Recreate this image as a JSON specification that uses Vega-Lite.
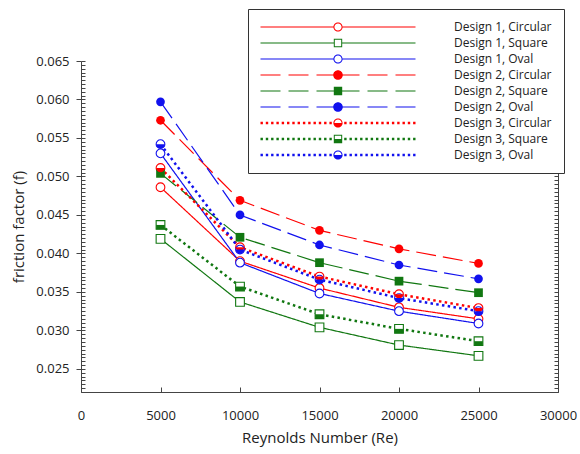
{
  "$schema": "https://vega.github.io/schema/vega-lite/v6.json",
  "width": 477,
  "height": 331,
  "autosize": {"type": "none"},
  "padding": {"left": 81, "top": 61, "right": 22, "bottom": 62},
  "config": {
    "font": "Open Sans",
    "view": {"stroke": null},
    "axis": {"domainColor": "#444", "tickColor": "#444", "labelColor": "#222", "titleColor": "#222", "labelFont": "Open Sans", "titleFont": "Open Sans", "labelFontSize": 13, "titleFontSize": 15, "titleFontWeight": "normal", "grid": false},
    "legend": {"labelFont": "Open Sans", "labelFontSize": 12, "labelColor": "#222"}
  },
  "data": {"values": [
    {"Re": 5000, "f": 0.0486, "design": "Design 1", "geom": "Circular", "series": "Design 1, Circular"},
    {"Re": 10000, "f": 0.0390, "design": "Design 1", "geom": "Circular", "series": "Design 1, Circular"},
    {"Re": 15000, "f": 0.0355, "design": "Design 1", "geom": "Circular", "series": "Design 1, Circular"},
    {"Re": 20000, "f": 0.0330, "design": "Design 1", "geom": "Circular", "series": "Design 1, Circular"},
    {"Re": 25000, "f": 0.0315, "design": "Design 1", "geom": "Circular", "series": "Design 1, Circular"},
    {"Re": 5000, "f": 0.0419, "design": "Design 1", "geom": "Square", "series": "Design 1, Square"},
    {"Re": 10000, "f": 0.0337, "design": "Design 1", "geom": "Square", "series": "Design 1, Square"},
    {"Re": 15000, "f": 0.0304, "design": "Design 1", "geom": "Square", "series": "Design 1, Square"},
    {"Re": 20000, "f": 0.0281, "design": "Design 1", "geom": "Square", "series": "Design 1, Square"},
    {"Re": 25000, "f": 0.0267, "design": "Design 1", "geom": "Square", "series": "Design 1, Square"},
    {"Re": 5000, "f": 0.0530, "design": "Design 1", "geom": "Oval", "series": "Design 1, Oval"},
    {"Re": 10000, "f": 0.0388, "design": "Design 1", "geom": "Oval", "series": "Design 1, Oval"},
    {"Re": 15000, "f": 0.0348, "design": "Design 1", "geom": "Oval", "series": "Design 1, Oval"},
    {"Re": 20000, "f": 0.0325, "design": "Design 1", "geom": "Oval", "series": "Design 1, Oval"},
    {"Re": 25000, "f": 0.0309, "design": "Design 1", "geom": "Oval", "series": "Design 1, Oval"},
    {"Re": 5000, "f": 0.0573, "design": "Design 2", "geom": "Circular", "series": "Design 2, Circular"},
    {"Re": 10000, "f": 0.0469, "design": "Design 2", "geom": "Circular", "series": "Design 2, Circular"},
    {"Re": 15000, "f": 0.0430, "design": "Design 2", "geom": "Circular", "series": "Design 2, Circular"},
    {"Re": 20000, "f": 0.0406, "design": "Design 2", "geom": "Circular", "series": "Design 2, Circular"},
    {"Re": 25000, "f": 0.0387, "design": "Design 2", "geom": "Circular", "series": "Design 2, Circular"},
    {"Re": 5000, "f": 0.0504, "design": "Design 2", "geom": "Square", "series": "Design 2, Square"},
    {"Re": 10000, "f": 0.0421, "design": "Design 2", "geom": "Square", "series": "Design 2, Square"},
    {"Re": 15000, "f": 0.0388, "design": "Design 2", "geom": "Square", "series": "Design 2, Square"},
    {"Re": 20000, "f": 0.0364, "design": "Design 2", "geom": "Square", "series": "Design 2, Square"},
    {"Re": 25000, "f": 0.0349, "design": "Design 2", "geom": "Square", "series": "Design 2, Square"},
    {"Re": 5000, "f": 0.0597, "design": "Design 2", "geom": "Oval", "series": "Design 2, Oval"},
    {"Re": 10000, "f": 0.0450, "design": "Design 2", "geom": "Oval", "series": "Design 2, Oval"},
    {"Re": 15000, "f": 0.0411, "design": "Design 2", "geom": "Oval", "series": "Design 2, Oval"},
    {"Re": 20000, "f": 0.0385, "design": "Design 2", "geom": "Oval", "series": "Design 2, Oval"},
    {"Re": 25000, "f": 0.0367, "design": "Design 2", "geom": "Oval", "series": "Design 2, Oval"},
    {"Re": 5000, "f": 0.0511, "design": "Design 3", "geom": "Circular", "series": "Design 3, Circular"},
    {"Re": 10000, "f": 0.0408, "design": "Design 3", "geom": "Circular", "series": "Design 3, Circular"},
    {"Re": 15000, "f": 0.0370, "design": "Design 3", "geom": "Circular", "series": "Design 3, Circular"},
    {"Re": 20000, "f": 0.0347, "design": "Design 3", "geom": "Circular", "series": "Design 3, Circular"},
    {"Re": 25000, "f": 0.0329, "design": "Design 3", "geom": "Circular", "series": "Design 3, Circular"},
    {"Re": 5000, "f": 0.0437, "design": "Design 3", "geom": "Square", "series": "Design 3, Square"},
    {"Re": 10000, "f": 0.0357, "design": "Design 3", "geom": "Square", "series": "Design 3, Square"},
    {"Re": 15000, "f": 0.0321, "design": "Design 3", "geom": "Square", "series": "Design 3, Square"},
    {"Re": 20000, "f": 0.0302, "design": "Design 3", "geom": "Square", "series": "Design 3, Square"},
    {"Re": 25000, "f": 0.0286, "design": "Design 3", "geom": "Square", "series": "Design 3, Square"},
    {"Re": 5000, "f": 0.0542, "design": "Design 3", "geom": "Oval", "series": "Design 3, Oval"},
    {"Re": 10000, "f": 0.0405, "design": "Design 3", "geom": "Oval", "series": "Design 3, Oval"},
    {"Re": 15000, "f": 0.0366, "design": "Design 3", "geom": "Oval", "series": "Design 3, Oval"},
    {"Re": 20000, "f": 0.0342, "design": "Design 3", "geom": "Oval", "series": "Design 3, Oval"},
    {"Re": 25000, "f": 0.0325, "design": "Design 3", "geom": "Oval", "series": "Design 3, Oval"}
  ]},
  "layer": [
    {
      "transform": [{"filter": "datum.design != 'Design 3'"}],
      "mark": {"type": "line", "strokeWidth": 1.2},
      "encoding": {
        "x": {"field": "Re", "type": "quantitative", "scale": {"domain": [0, 30000], "nice": false},
          "axis": {"title": "Reynolds Number (Re)", "values": [0, 5000, 10000, 15000, 20000, 25000, 30000], "format": "d", "tickSize": -5, "labelPadding": 22, "titlePadding": 8, "labelFlush": false, "labelOverlap": false}},
        "y": {"field": "f", "type": "quantitative", "scale": {"domain": [0.022, 0.065], "nice": false, "zero": false},
          "axis": {"orient": "left", "title": "friction factor (f)", "values": [0.025, 0.03, 0.035, 0.04, 0.045, 0.05, 0.055, 0.06, 0.065], "format": ".3f", "tickSize": 5, "labelPadding": 7, "titlePadding": 9, "labelOverlap": false}},
        "stroke": {"field": "geom", "type": "nominal", "scale": {"domain": ["Circular", "Square", "Oval"], "range": ["#ff0000", "#117711", "#1111ee"]}, "legend": null},
        "strokeDash": {"field": "design", "type": "nominal", "scale": {"domain": ["Design 1", "Design 2"], "range": [[1, 0], [20, 7]]}, "legend": null},
        "detail": {"field": "series"}
      }
    },
    {
      "transform": [{"filter": "datum.design == 'Design 3'"}],
      "mark": {"type": "line", "strokeWidth": 2.5, "strokeDash": [2.5, 3.3]},
      "encoding": {
        "x": {"field": "Re", "type": "quantitative"},
        "y": {"field": "f", "type": "quantitative", "axis": {"orient": "left", "tickCount": 86, "labels": false, "domain": false, "title": null, "tickSize": -4}},
        "stroke": {"field": "geom", "type": "nominal", "legend": null},
        "detail": {"field": "series"}
      }
    },
    {
      "transform": [{"filter": "datum.design != 'Design 2'"}],
      "mark": {"type": "point", "filled": true, "fill": "white", "strokeWidth": 1.1, "size": 76, "opacity": 1},
      "encoding": {
        "x": {"field": "Re", "type": "quantitative"},
        "y": {"field": "f", "type": "quantitative", "axis": {"orient": "right", "tickCount": 86, "labels": false, "domain": true, "title": null, "tickSize": -4}},
        "stroke": {"field": "geom", "type": "nominal", "legend": null},
        "shape": {"field": "geom", "type": "nominal", "scale": {"domain": ["Circular", "Square", "Oval"], "range": ["circle", "square", "circle"]}, "legend": null}
      }
    },
    {
      "transform": [{"filter": "datum.design == 'Design 2'"}],
      "mark": {"type": "point", "filled": true, "size": 76, "opacity": 1},
      "encoding": {
        "x": {"field": "Re", "type": "quantitative"},
        "y": {"field": "f", "type": "quantitative", "axis": null},
        "color": {"field": "geom", "type": "nominal", "scale": {"domain": ["Circular", "Square", "Oval"], "range": ["#ff0000", "#117711", "#1111ee"]}, "legend": null},
        "shape": {"field": "geom", "type": "nominal", "scale": {"domain": ["Circular", "Square", "Oval"], "range": ["circle", "square", "circle"]}, "legend": null}
      }
    },
    {
      "transform": [{"filter": "datum.design == 'Design 3'"}],
      "mark": {"type": "point", "filled": true, "size": 76, "opacity": 1},
      "encoding": {
        "x": {"field": "Re", "type": "quantitative"},
        "y": {"field": "f", "type": "quantitative", "axis": null},
        "color": {"field": "geom", "type": "nominal", "legend": null},
        "shape": {"field": "geom", "type": "nominal", "scale": {"domain": ["Circular", "Square", "Oval"], "range": ["M-1,0A1,1 0 0,0 1,0Z", "M-1,0H1V1H-1Z", "M-1,0A1,1 0 0,0 1,0Z"]}, "legend": null}
      }
    },
    {
      "transform": [{"filter": "datum.Re < 0"}],
      "mark": {"type": "point", "filled": true, "size": 4, "strokeWidth": 0, "opacity": 1},
      "encoding": {
        "fill": {"field": "series", "type": "nominal",
          "scale": {"domain": ["Design 1, Circular", "Design 1, Square", "Design 1, Oval", "Design 2, Circular", "Design 2, Square", "Design 2, Oval", "Design 3, Circular", "Design 3, Square", "Design 3, Oval"],
            "range": ["#ff0000", "#117711", "#1111ee", "#ff0000", "#117711", "#1111ee", "#ff0000", "#117711", "#1111ee"]},
          "legend": {"title": null, "orient": "none", "legendX": 167, "legendY": -52, "padding": 12, "strokeColor": "#333", "fillColor": "white", "labelFont": "Open Sans", "labelFontSize": 12, "labelColor": "#222", "symbolSize": 4, "symbolOffset": 72, "labelOffset": 110, "rowPadding": 4, "symbolStrokeWidth": 0, "symbolOpacity": 1, "labelLimit": 0}},
        "shape": {"field": "series", "type": "nominal",
          "scale": {"domain": ["Design 1, Circular", "Design 1, Square", "Design 1, Oval", "Design 2, Circular", "Design 2, Square", "Design 2, Oval", "Design 3, Circular", "Design 3, Square", "Design 3, Oval"],
            "range": [
              "M-77.5,-0.6H-4.6V0.6H-77.5Z M4.6,-0.6H77.5V0.6H4.6Z M-4.6,0A4.6,4.6 0 1,0 4.6,0A4.6,4.6 0 1,0 -4.6,0Z M-3.6,0A3.6,3.6 0 1,1 3.6,0A3.6,3.6 0 1,1 -3.6,0Z",
              "M-77.5,-0.6H-4.2V0.6H-77.5Z M4.2,-0.6H77.5V0.6H4.2Z M-4.2,-4.2H4.2V4.2H-4.2Z M-3.2,-3.2V3.2H3.2V-3.2Z",
              "M-77.5,-0.6H-4.6V0.6H-77.5Z M4.6,-0.6H77.5V0.6H4.6Z M-4.6,0A4.6,4.6 0 1,0 4.6,0A4.6,4.6 0 1,0 -4.6,0Z M-3.6,0A3.6,3.6 0 1,1 3.6,0A3.6,3.6 0 1,1 -3.6,0Z",
              "M-77.5,-0.6H-57.5V0.6H-77.5Z M-49.5,-0.6H-29.5V0.6H-49.5Z M-21.5,-0.6H-1.5V0.6H-21.5Z M1.5,-0.6H21.5V0.6H1.5Z M29.5,-0.6H49.5V0.6H29.5Z M57.5,-0.6H77.5V0.6H57.5Z M-4.8,0A4.8,4.8 0 1,1 4.8,0A4.8,4.8 0 1,1 -4.8,0Z",
              "M-77.5,-0.6H-57.5V0.6H-77.5Z M-49.5,-0.6H-29.5V0.6H-49.5Z M-21.5,-0.6H-1.5V0.6H-21.5Z M1.5,-0.6H21.5V0.6H1.5Z M29.5,-0.6H49.5V0.6H29.5Z M57.5,-0.6H77.5V0.6H57.5Z M-4.2,-4.2H4.2V4.2H-4.2Z",
              "M-77.5,-0.6H-57.5V0.6H-77.5Z M-49.5,-0.6H-29.5V0.6H-49.5Z M-21.5,-0.6H-1.5V0.6H-21.5Z M1.5,-0.6H21.5V0.6H1.5Z M29.5,-0.6H49.5V0.6H29.5Z M57.5,-0.6H77.5V0.6H57.5Z M-4.8,0A4.8,4.8 0 1,1 4.8,0A4.8,4.8 0 1,1 -4.8,0Z",
              "M-77.5,-1.2h2.4v2.4h-2.4Z M-72.2,-1.2h2.4v2.4h-2.4Z M-66.9,-1.2h2.4v2.4h-2.4Z M-61.6,-1.2h2.4v2.4h-2.4Z M-56.3,-1.2h2.4v2.4h-2.4Z M-51,-1.2h2.4v2.4h-2.4Z M-45.7,-1.2h2.4v2.4h-2.4Z M-40.4,-1.2h2.4v2.4h-2.4Z M-35.1,-1.2h2.4v2.4h-2.4Z M-29.8,-1.2h2.4v2.4h-2.4Z M-24.5,-1.2h2.4v2.4h-2.4Z M-19.2,-1.2h2.4v2.4h-2.4Z M-13.9,-1.2h2.4v2.4h-2.4Z M-8.6,-1.2h2.4v2.4h-2.4Z M6.2,-1.2h2.4v2.4h-2.4Z M11.5,-1.2h2.4v2.4h-2.4Z M16.8,-1.2h2.4v2.4h-2.4Z M22.1,-1.2h2.4v2.4h-2.4Z M27.4,-1.2h2.4v2.4h-2.4Z M32.7,-1.2h2.4v2.4h-2.4Z M38,-1.2h2.4v2.4h-2.4Z M43.3,-1.2h2.4v2.4h-2.4Z M48.6,-1.2h2.4v2.4h-2.4Z M53.9,-1.2h2.4v2.4h-2.4Z M59.2,-1.2h2.4v2.4h-2.4Z M64.5,-1.2h2.4v2.4h-2.4Z M69.8,-1.2h2.4v2.4h-2.4Z M75.1,-1.2h2.4v2.4h-2.4Z M-4.6,0A4.6,4.6 0 1,0 4.6,0A4.6,4.6 0 1,0 -4.6,0Z M-3.6,0A3.6,3.6 0 1,1 3.6,0A3.6,3.6 0 1,1 -3.6,0Z M-4.6,0A4.6,4.6 0 0,0 4.6,0Z",
              "M-77.5,-1.2h2.4v2.4h-2.4Z M-72.2,-1.2h2.4v2.4h-2.4Z M-66.9,-1.2h2.4v2.4h-2.4Z M-61.6,-1.2h2.4v2.4h-2.4Z M-56.3,-1.2h2.4v2.4h-2.4Z M-51,-1.2h2.4v2.4h-2.4Z M-45.7,-1.2h2.4v2.4h-2.4Z M-40.4,-1.2h2.4v2.4h-2.4Z M-35.1,-1.2h2.4v2.4h-2.4Z M-29.8,-1.2h2.4v2.4h-2.4Z M-24.5,-1.2h2.4v2.4h-2.4Z M-19.2,-1.2h2.4v2.4h-2.4Z M-13.9,-1.2h2.4v2.4h-2.4Z M-8.6,-1.2h2.4v2.4h-2.4Z M6.2,-1.2h2.4v2.4h-2.4Z M11.5,-1.2h2.4v2.4h-2.4Z M16.8,-1.2h2.4v2.4h-2.4Z M22.1,-1.2h2.4v2.4h-2.4Z M27.4,-1.2h2.4v2.4h-2.4Z M32.7,-1.2h2.4v2.4h-2.4Z M38,-1.2h2.4v2.4h-2.4Z M43.3,-1.2h2.4v2.4h-2.4Z M48.6,-1.2h2.4v2.4h-2.4Z M53.9,-1.2h2.4v2.4h-2.4Z M59.2,-1.2h2.4v2.4h-2.4Z M64.5,-1.2h2.4v2.4h-2.4Z M69.8,-1.2h2.4v2.4h-2.4Z M75.1,-1.2h2.4v2.4h-2.4Z M-4.2,-4.2H4.2V4.2H-4.2Z M-3.2,-3.2V3.2H3.2V-3.2Z M-4.2,0H4.2V4.2H-4.2Z",
              "M-77.5,-1.2h2.4v2.4h-2.4Z M-72.2,-1.2h2.4v2.4h-2.4Z M-66.9,-1.2h2.4v2.4h-2.4Z M-61.6,-1.2h2.4v2.4h-2.4Z M-56.3,-1.2h2.4v2.4h-2.4Z M-51,-1.2h2.4v2.4h-2.4Z M-45.7,-1.2h2.4v2.4h-2.4Z M-40.4,-1.2h2.4v2.4h-2.4Z M-35.1,-1.2h2.4v2.4h-2.4Z M-29.8,-1.2h2.4v2.4h-2.4Z M-24.5,-1.2h2.4v2.4h-2.4Z M-19.2,-1.2h2.4v2.4h-2.4Z M-13.9,-1.2h2.4v2.4h-2.4Z M-8.6,-1.2h2.4v2.4h-2.4Z M6.2,-1.2h2.4v2.4h-2.4Z M11.5,-1.2h2.4v2.4h-2.4Z M16.8,-1.2h2.4v2.4h-2.4Z M22.1,-1.2h2.4v2.4h-2.4Z M27.4,-1.2h2.4v2.4h-2.4Z M32.7,-1.2h2.4v2.4h-2.4Z M38,-1.2h2.4v2.4h-2.4Z M43.3,-1.2h2.4v2.4h-2.4Z M48.6,-1.2h2.4v2.4h-2.4Z M53.9,-1.2h2.4v2.4h-2.4Z M59.2,-1.2h2.4v2.4h-2.4Z M64.5,-1.2h2.4v2.4h-2.4Z M69.8,-1.2h2.4v2.4h-2.4Z M75.1,-1.2h2.4v2.4h-2.4Z M-4.6,0A4.6,4.6 0 1,0 4.6,0A4.6,4.6 0 1,0 -4.6,0Z M-3.6,0A3.6,3.6 0 1,1 3.6,0A3.6,3.6 0 1,1 -3.6,0Z M-4.6,0A4.6,4.6 0 0,0 4.6,0Z"
            ]},
          "legend": {"title": null, "orient": "none", "legendX": 167, "legendY": -52, "labelFontSize": 12}}
      }
    }
  ],
  "resolve": {"scale": {"shape": "independent", "fill": "independent"}, "axis": {"y": "independent"}}
}
